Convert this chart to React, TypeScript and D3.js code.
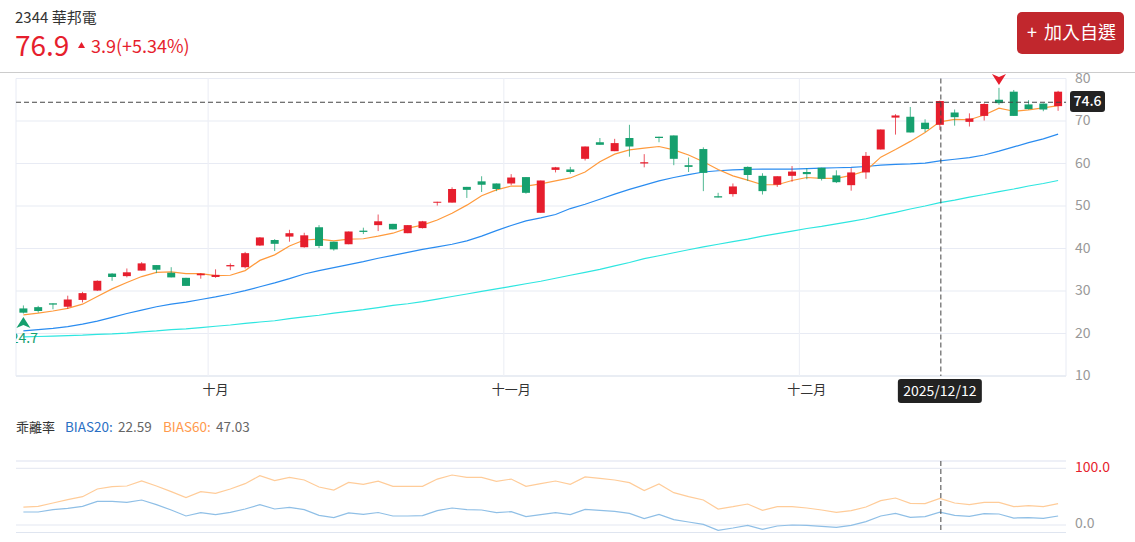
import * as d3 from 'd3';

const dates = [
  '09/12', '09/15', '09/16', '09/17', '09/18', '09/19', '09/22', '09/23', '09/24', '09/25', '09/26', '09/29', '09/30',
  '10/01', '10/02', '10/03', '10/07', '10/08', '10/09', '10/13', '10/14', '10/15', '10/16', '10/17', '10/20', '10/21',
  '10/22', '10/23', '10/27', '10/28', '10/29', '10/30', '10/31',
  '11/03', '11/04', '11/05', '11/06', '11/07', '11/10', '11/11', '11/12', '11/13', '11/14', '11/17', '11/18', '11/19',
  '11/20', '11/21', '11/24', '11/25', '11/26', '11/27', '11/28',
  '12/01', '12/02', '12/03', '12/04', '12/05', '12/08', '12/09', '12/10', '12/11', '12/12', '12/15', '12/16', '12/17',
  '12/18', '12/19', '12/22', '12/23', '12/24',
];

const opens = [
  25.9, 26.2, 27.1, 26.3, 27.9, 30.1, 34.1, 33.5, 34.8, 36.1,
  34.3, 33.1, 33.7, 33.3, 35.8, 35.6, 40.7, 42.0, 42.8, 40.3,
  45.0, 41.6, 41.0, 44.2, 45.5, 45.8, 43.6, 44.8, 50.8, 50.8,
  54.5, 55.8, 55.3, 55.3, 56.8, 48.4, 58.5, 58.6, 61.1, 65.0,
  62.9, 66.0, 60.0, 66.3, 66.6, 59.6, 63.4, 52.3, 52.8, 59.2,
  57.1, 55.0, 57.1, 58.0, 59.0, 57.2, 54.9, 57.9, 63.3, 70.8,
  71.0, 69.6, 69.1, 72.0, 69.8, 71.2, 75.0, 76.9, 73.9, 74.1, 73.5,
];
const closes = [
  24.9, 25.3, 26.8, 28.0, 29.5, 32.4, 33.3, 34.4, 36.5, 35.0,
  33.2, 31.2, 34.1, 33.8, 36.1, 38.9, 42.6, 41.1, 43.6, 43.1,
  40.6, 39.8, 44.0, 43.9, 46.4, 44.5, 45.5, 46.4, 51.0, 54.0,
  53.8, 55.0, 54.0, 56.7, 53.1, 56.0, 59.1, 58.0, 64.0, 64.4,
  64.8, 64.0, 60.3, 66.0, 61.1, 59.2, 57.8, 52.0, 54.6, 57.3,
  53.5, 57.0, 58.1, 57.5, 56.4, 55.6, 57.9, 61.8, 68.0, 71.3,
  67.3, 68.1, 74.7, 70.9, 70.6, 74.0, 74.2, 71.2, 72.8, 72.7, 76.9,
];
const highs = [
  26.6, 26.5, 27.1, 28.9, 29.8, 32.5, 34.2, 35.3, 36.8, 36.1,
  35.6, 33.1, 34.2, 35.1, 36.5, 39.2, 42.7, 42.2, 44.4, 43.7,
  45.5, 41.6, 44.0, 44.9, 48.0, 45.8, 45.5, 46.5, 51.0, 54.4,
  54.5, 57.0, 55.3, 57.5, 56.8, 56.0, 59.2, 59.2, 64.0, 66.0,
  65.8, 69.1, 62.2, 66.3, 66.6, 61.4, 63.8, 53.1, 55.3, 59.3,
  57.7, 57.0, 59.4, 58.9, 59.0, 58.4, 58.9, 62.7, 68.0, 71.6,
  73.3, 70.4, 74.8, 72.7, 71.8, 74.2, 77.8, 77.3, 74.9, 74.1, 77.1,
];
const lows = [
  24.7, 24.9, 25.7, 25.8, 27.3, 30.0, 32.4, 33.2, 34.8, 34.2,
  33.2, 31.2, 32.9, 33.1, 34.9, 35.3, 40.6, 39.4, 41.6, 40.2,
  40.1, 39.5, 41.0, 43.4, 44.1, 44.5, 43.6, 44.7, 50.1, 50.8,
  51.9, 53.3, 53.5, 54.9, 52.9, 48.4, 57.9, 57.6, 60.7, 64.4,
  62.9, 61.6, 59.1, 65.0, 59.6, 58.0, 53.5, 52.0, 52.2, 55.9,
  52.7, 54.5, 55.7, 56.3, 56.0, 55.4, 53.6, 56.4, 63.3, 66.8,
  67.3, 67.4, 67.9, 68.9, 68.7, 70.1, 73.8, 71.2, 72.7, 72.3, 72.4,
];

const ma5 = [
  24.4, 24.8, 25.3, 25.9, 26.9, 28.7, 30.5, 32.0, 33.4, 34.4,
  34.5, 34.1, 34.1, 33.6, 33.7, 34.8, 37.2, 38.5, 40.6, 42.0,
  42.2, 41.8, 42.2, 42.3, 42.9, 43.6, 44.8, 45.5, 46.7, 48.3,
  50.2, 52.4, 53.8, 54.7, 54.7, 55.2, 55.9, 56.6, 58.0, 60.4,
  62.2, 63.2, 63.6, 64.0, 63.2, 62.0, 60.4, 58.6, 57.1, 56.1,
  55.0, 55.0, 56.0, 56.7, 56.5, 56.5, 57.2, 58.3, 61.5, 63.3,
  65.2, 67.3, 69.8, 70.4, 70.3, 71.4, 73.0, 72.3, 72.6, 73.1, 73.6,
];
const ma20 = [
  20.6, 20.9, 21.2, 21.6, 22.2, 22.9, 23.8, 24.7, 25.5, 26.3,
  26.9, 27.4, 28.0, 28.6, 29.3, 30.1, 31.0, 31.9, 32.9, 34.0,
  34.8, 35.5, 36.2, 36.9, 37.7, 38.4, 39.1, 39.8, 40.4, 41.0,
  41.8, 42.9, 44.2, 45.4, 46.5, 47.2, 48.0, 49.4, 50.4, 51.6,
  52.8, 53.9, 54.9, 55.9, 56.7, 57.4, 58.0, 58.3, 58.5, 58.6,
  58.7, 58.7, 58.7, 58.8, 58.9, 59.0, 59.1, 59.3, 59.6, 59.8,
  59.9, 60.1, 60.6, 61.0, 61.4, 62.0, 62.9, 63.9, 64.9, 65.8, 66.9,
];
const ma60 = [
  19.2, 19.3, 19.4, 19.5, 19.6, 19.8, 19.9, 20.1, 20.4, 20.6,
  20.9, 21.1, 21.4, 21.7, 22.0, 22.4, 22.7, 23.0, 23.5, 23.9,
  24.3, 24.8, 25.2, 25.6, 26.1, 26.6, 27.0, 27.5, 28.1, 28.7,
  29.3, 29.9, 30.5, 31.1, 31.7, 32.3, 33.0, 33.7, 34.4, 35.1,
  35.9, 36.7, 37.6, 38.3, 39.0, 39.7, 40.4, 41.0, 41.6, 42.2,
  42.9, 43.5, 44.1, 44.7, 45.2, 45.8, 46.4, 47.0, 47.8, 48.5,
  49.3, 50.0, 50.8, 51.4, 52.1, 52.7, 53.4, 54.0, 54.7, 55.3, 56.0,
];

const bias20 = [
  22.9, 22.9, 27.0, 29.4, 32.9, 41.7, 41.7, 39.9, 44.1, 35.9,
  26.5, 15.9, 21.7, 18.2, 22.3, 28.2, 35.9, 28.2, 31.2, 27.0,
  17.0, 12.9, 21.2, 18.8, 22.0, 15.9, 15.9, 16.5, 25.3, 30.0,
  27.0, 26.5, 21.8, 23.5, 14.7, 18.2, 21.8, 18.2, 27.6, 25.9,
  24.1, 20.6, 11.2, 18.8, 9.4, 5.3, 1.2, -9.4, -5.3, -0.6,
  -7.6, -1.8, 0.0, -0.6, -2.4, -4.1, -0.6, 5.9, 15.9, 20.6,
  13.5, 14.7, 22.59, 17.0, 15.3, 20.0, 19.4, 12.3, 12.9, 11.8, 15.9,
];
const bias60 = [
  31.7, 32.9, 38.8, 44.7, 49.9, 63.5, 67.6, 68.8, 77.6, 68.8,
  58.8, 48.5, 58.8, 55.8, 63.5, 72.9, 87.0, 78.2, 84.0, 79.4,
  67.0, 61.7, 75.2, 71.7, 77.3, 68.2, 68.2, 68.2, 81.0, 88.2,
  84.0, 84.0, 77.0, 81.0, 68.2, 72.9, 77.6, 71.7, 84.7, 82.3,
  79.4, 74.7, 60.6, 72.3, 57.0, 50.0, 44.1, 28.2, 32.3, 37.0,
  25.9, 32.3, 32.3, 30.0, 26.5, 22.3, 25.3, 31.7, 42.9, 47.6,
  38.2, 37.6, 47.03, 38.8, 35.9, 40.0, 40.0, 32.3, 34.1, 32.3, 37.6,
];

const priceTicks = [10, 20, 30, 40, 50, 60, 70, 80];
const monthTicks = ['10/01', '11/03', '12/01'];
const monthLabels = ['十月', '十一月', '十二月'];
const lastPrice = 74.6;
const hoverDate = '12/12';

const FONT = '"Noto Sans CJK TC", "Noto Sans", sans-serif';
const RED = '#e61e2d';
const GREEN = '#16a06e';
const GRID = '#e8ebf4';

const x = d3.scaleBand<string>().domain(dates).range([16, 1065.5]);
const cx = (d: string) => (x(d) as number) + x.bandwidth() / 2;
const y = d3.scaleLinear().domain([10, 80]).range([376, 78.5]);
const yBias = d3.scaleLinear().domain([0, 100]).range([525, 468.3]);

const priceLine = (vals: number[]) =>
  d3.line<number>().x((_, i) => cx(dates[i])).y((v) => y(v))(vals) as string;
const biasLine = (vals: number[]) =>
  d3.line<number>().x((_, i) => cx(dates[i])).y((v) => yBias(v))(vals) as string;

export default function App() {
  const hoverX = cx(hoverDate) + 1;
  const priceY = y(lastPrice) + 0.8;
  const lowIdx = lows.indexOf(d3.min(lows) as number);
  const highIdx = highs.indexOf(d3.max(highs) as number);
  const lowX = cx(dates[lowIdx]);
  const highX = cx(dates[highIdx]);

  return (
    <svg
      width={1135}
      height={542}
      style={{ position: 'fixed', left: 0, top: 0, background: '#fff' }}
      fontFamily={FONT}
    >
      <defs>
        <clipPath id="plot">
          <rect x={16} y={60} width={1060} height={320} />
        </clipPath>
      </defs>

      {/* header */}
      <text x={15} y={22.5} fontSize={15} fill="#333">2344 華邦電</text>
      <text x={15} y={56} fontSize={28} fill={RED}>76.9</text>
      <path d="M78,48 L85,48 L81.5,42 Z" fill={RED} />
      <text x={91} y={53} fontSize={18} fill={RED}>3.9(+5.34%)</text>
      <rect x={1017} y={12} width={107} height={42} rx={5} fill="#c1272d" />
      <text x={1027} y={39} fontSize={18} fill="#fff">+</text>
      <text x={1044} y={39} fontSize={18} fill="#fff">加入自選</text>
      <line x1={0} x2={1135} y1={72.5} y2={72.5} stroke="#ccc" />

      {/* price grid */}
      {priceTicks.map((t) => (
        <g key={t}>
          <line
            x1={16}
            x2={1066}
            y1={y(t)}
            y2={y(t)}
            stroke={t === 10 ? '#d3dbe8' : GRID}
            strokeWidth={t === 10 ? 1 : 1.2}
          />
          <text x={1075} y={y(t) + 4} fontSize={14} fill="#999">{t}</text>
        </g>
      ))}
      <line x1={16} x2={16} y1={78.5} y2={376} stroke={GRID} />
      <line x1={1066} x2={1066} y1={78.5} y2={376} stroke={GRID} />
      {monthTicks.map((m, i) => (
        <g key={m}>
          <line
            x1={x(m) as number}
            x2={x(m) as number}
            y1={78.5}
            y2={376}
            stroke="#eef0f6"
            strokeWidth={1.2}
          />
          <text x={cx(m)} y={394} fontSize={13} fill="#333" textAnchor="middle">
            {monthLabels[i]}
          </text>
        </g>
      ))}

      {/* moving averages behind the candles */}
      <path d={priceLine(ma60)} fill="none" stroke="#2ee6e0" strokeWidth={1.2} />
      <path d={priceLine(ma20)} fill="none" stroke="#2a8cf0" strokeWidth={1.2} />
      <path d={priceLine(ma5)} fill="none" stroke="#ff9a3c" strokeWidth={1.2} />

      {/* candles */}
      {dates.map((d, i) => {
        const up = closes[i] >= opens[i];
        const color = up ? RED : GREEN;
        const top = y(Math.max(opens[i], closes[i]));
        const bottom = y(Math.min(opens[i], closes[i]));
        return (
          <g key={d}>
            <line x1={cx(d)} x2={cx(d)} y1={y(highs[i])} y2={y(lows[i])} stroke={color} strokeOpacity={0.75} />
            <rect x={cx(d) - 4} y={top} width={8} height={Math.max(bottom - top, 1)} fill={color} />
          </g>
        );
      })}

      {/* low and high marks */}
      <path
        d={`M${lowX},317 L${lowX + 7},328 L${lowX},325 L${lowX - 7},328 Z`}
        fill={GREEN}
      />
      <text x={lowX + 1} y={343} fontSize={14} fill={GREEN} textAnchor="middle" clipPath="url(#plot)">
        {d3.min(lows)}
      </text>
      <path
        d={`M${highX},85 L${highX + 7},74 L${highX},77 L${highX - 7},74 Z`}
        fill={RED}
      />

      {/* crosshair */}
      <line x1={16} x2={1066} y1={priceY} y2={priceY} stroke="#444" strokeDasharray="5 3" />
      <line x1={hoverX} x2={hoverX} y1={78.5} y2={376} stroke="#444" strokeDasharray="5 3" />
      <rect x={1070} y={91} width={35} height={21} rx={3} fill="#222" />
      <text x={1087.5} y={106} fontSize={14} fontWeight={500} fill="#fff" textAnchor="middle">
        {lastPrice}
      </text>
      <rect x={hoverX - 43} y={379} width={84} height={24} rx={3} fill="#222" />
      <text x={hoverX - 1} y={396} fontSize={14} fill="#fff" textAnchor="middle">2025/12/12</text>

      {/* bias pane */}
      <text x={16} y={432} fontSize={13} fill="#333">乖離率</text>
      <text x={65} y={432} fontSize={13.5} fill="#2a6fc4">BIAS20:</text>
      <text x={118} y={432} fontSize={13.5} fill="#666">22.59</text>
      <text x={163} y={432} fontSize={13.5} fill="#ff9a4d">BIAS60:</text>
      <text x={216} y={432} fontSize={13.5} fill="#666">47.03</text>

      <line x1={16} x2={1066} y1={461} y2={461} stroke={GRID} strokeWidth={1.4} />
      <line x1={16} x2={1066} y1={yBias(100)} y2={yBias(100)} stroke="#e3e7f1" />
      <line x1={16} x2={1066} y1={yBias(0)} y2={yBias(0)} stroke="#e3e7f1" strokeWidth={1.2} />
      <line x1={16} x2={1066} y1={532.5} y2={532.5} stroke="#dfe5f0" />
      <path d={biasLine(bias60)} fill="none" stroke="#ffcc99" strokeWidth={1.2} />
      <path d={biasLine(bias20)} fill="none" stroke="#8fbfe6" strokeWidth={1.2} />
      <line x1={hoverX} x2={hoverX} y1={461} y2={532} stroke="#444" strokeDasharray="5 3" />
      <text x={1075} y={472} fontSize={14} fill={RED}>100.0</text>
      <text x={1075} y={528} fontSize={14} fill="#999">0.0</text>
    </svg>
  );
}
